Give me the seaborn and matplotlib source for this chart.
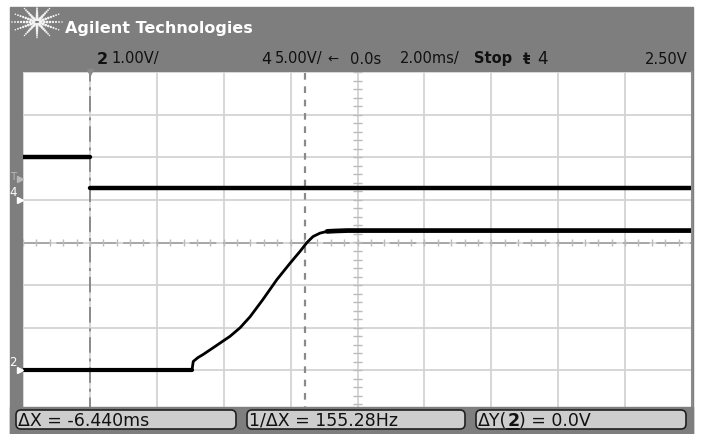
import numpy as np
import pandas as pd
import seaborn as sns
import matplotlib.pyplot as plt
from matplotlib.patches import Rectangle, FancyBboxPatch
from matplotlib import transforms

# scope settings
time_per_div = 2.0        # ms/div
ch2_volts_per_div = 1.0
ch4_volts_per_div = 5.0
ch2_offset_div = -3.0     # ground marker of channel 2
ch4_offset_div = 1.0      # ground marker of channel 4
trig_level = 2.50         # V, channel 4

# channel 2 trace (ms, V)
ch2_t = [-10.0, -4.95, -4.91, -4.77, -4.62, -4.26, -3.81, -3.51, -3.21, -2.83, -2.41,
         -2.02, -1.72, -1.51, -1.33, -1.12, -0.91, -0.67, -0.3, 10.0]
ch2_v = [0.0, 0.0, 0.21, 0.30, 0.37, 0.56, 0.80, 1.00, 1.26, 1.66, 2.13,
         2.51, 2.79, 3.00, 3.14, 3.22, 3.26, 3.27, 3.28, 3.28]

# channel 4 trace, two flat pieces (ms, V)
ch4_t = [-10.0, -8.0, -8.0, 10.0]
ch4_v = [5.0, 5.0, 1.35, 1.35]
ch4_seg = [0, 0, 1, 1]

# x cursors (ms)
cursor_t = [-1.56, -8.0]

# header / status texts
header = [("2", 97, True, 11.5), ("1.00V/", 111, False, 10.5),
          ("4", 261, False, 11.5), ("5.00V/", 275, False, 10.5),
          ("←", 327, False, 9.5), ("0.0s", 350, False, 10.5),
          ("2.00ms/", 400, False, 10.5), ("Stop", 474, True, 10.5),
          ("ŧ", 523, True, 11), ("4", 537, False, 12), ("2.50V", 645, False, 10.5)]
status = ["ΔX = -6.440ms", "1/ΔX = 155.28Hz", "ΔY(", "2", ") = 0.0V"]

df2 = pd.DataFrame({"t": ch2_t, "y": np.array(ch2_v) / ch2_volts_per_div + ch2_offset_div})
df4 = pd.DataFrame({"t": ch4_t, "y": np.array(ch4_v) / ch4_volts_per_div + ch4_offset_div,
                    "seg": ch4_seg})

sns.set_style("white")
plt.rcParams["font.family"] = ["DejaVu Sans"]

W, H = 701, 435
fig = plt.figure(figsize=(W / 100, H / 100), dpi=100, facecolor="white")

# background + header, pixel coordinates
bg = fig.add_axes([0, 0, 1, 1], zorder=0)
bg.set_xlim(0, W)
bg.set_ylim(H, 0)
bg.axis("off")
bg.add_patch(Rectangle((10, 8), 683, H - 8, color="#7e7e7e"))

# starburst logo
cx, cy = 37, 23
for ang in np.arange(0, 360, 30):
    a = np.deg2rad(ang)
    r = np.linspace(4, 25, 8)
    bg.scatter(cx + r * np.cos(a), cy + r * np.sin(a) * 0.62, s=np.linspace(5, 1.2, 8),
               color="#f4f4f4", lw=0)
bg.text(65, 28, "Agilent Technologies", color="white", fontsize=11.5, fontweight="bold",
        va="center", ha="left")
for txt, x, bold, fs in header:
    bg.text(x, 59, txt, color="#111111", fontsize=fs, fontweight="bold" if bold else "normal",
            va="center", ha="left")

# graticule
ax = fig.add_axes([23 / W, 1 - 414 / H, 669 / W, 341 / H], zorder=1)
ax.set_facecolor("white")
ax.set_xlim(-5 * time_per_div, 5 * time_per_div)
ax.set_ylim(-4, 4)
ax.set_xticks(np.arange(-10, 10.1, time_per_div))
ax.set_yticks(np.arange(-4, 4.1, 1))
ax.tick_params(length=0, labelbottom=False, labelleft=False)
ax.grid(True, color="#d3d3d3", lw=1.3)
for s in ["left", "top", "bottom"]:
    ax.spines[s].set_visible(False)
ax.spines["right"].set_color("#8c8c8c")
ax.spines["right"].set_linewidth(1.5)

# centre axes with minor ticks
ax.axhline(0, color="#a0a0a0", lw=1.2, ls=(0, (16, 4)))
ax.hlines(np.arange(-4, 4.01, 0.2), -0.12, 0.12, color="#bbbbbb", lw=1)
ax.vlines(np.arange(-10, 10.01, 0.4), -0.08, 0.08, color="#bbbbbb", lw=1)

# cursors
ax.axvline(cursor_t[0], color="#8a8a8a", lw=1.6, ls=(0, (3, 3)))
ax.axvline(cursor_t[1], color="#8a8a8a", lw=1.4, ls=(0, (8, 3, 1.5, 3)))
ax.plot(cursor_t[1], 4, marker="v", color="#8a8a8a", ms=5, clip_on=False)

# traces: thin ramp, heavier flat parts
sns.lineplot(data=df2, x="t", y="y", color="black", lw=2.0, sort=False, estimator=None, ax=ax)
sns.lineplot(data=df2.iloc[:2], x="t", y="y", color="black", lw=3.0, sort=False,
             estimator=None, ax=ax)
sns.lineplot(data=df2.iloc[-4:], x="t", y="y", color="black", lw=3.4, sort=False,
             estimator=None, ax=ax)
sns.lineplot(data=df4, x="t", y="y", units="seg", color="black", lw=3.2, sort=False,
             estimator=None, ax=ax)
ax.set_xlabel("")
ax.set_ylabel("")

# channel markers on the left strip
tr = transforms.blended_transform_factory(ax.transAxes, ax.transData)
for lab, lvl in [("4", ch4_offset_div), ("2", ch2_offset_div)]:
    ax.text(-0.02, lvl + 0.2, lab, transform=tr, color="white", fontsize=8.5,
            ha="left", va="center", clip_on=False)
    ax.plot(-0.005, lvl, marker=">", color="white", ms=5, transform=tr, clip_on=False)
trig_div = trig_level / ch4_volts_per_div + ch4_offset_div
ax.text(-0.02, trig_div + 0.05, "T", transform=tr, color="#b8b8b8", fontsize=7.5,
        ha="left", va="center", clip_on=False)
ax.plot(-0.005, trig_div, marker=">", color="#b8b8b8", ms=4, transform=tr, clip_on=False)

# status bar on top
top = fig.add_axes([0, 0, 1, 1], zorder=2)
top.set_xlim(0, W)
top.set_ylim(H, 0)
top.axis("off")
top.patch.set_alpha(0)
top.add_patch(Rectangle((10, 408), 683, H - 408, color="#7e7e7e"))
boxes = [(12, 240), (243, 469), (472, 690)]
for x0, x1 in boxes:
    top.add_patch(FancyBboxPatch((x0 + 4, 411), x1 - x0 - 8, 19,
                                 boxstyle="round,pad=0,rounding_size=5",
                                 fc="#cdcdcd", ec="#202020", lw=1.2))
top.text(boxes[0][0] + 6, 421, status[0], color="#111111", fontsize=12.5, va="center")
top.text(boxes[1][0] + 6, 421, status[1], color="#111111", fontsize=12.5, va="center")

# ΔY(2) with the channel number bold and underlined
fig.canvas.draw()
rend = fig.canvas.get_renderer()
inv = top.transData.inverted()
x = boxes[2][0] + 6
for i, txt in enumerate(status[2:]):
    t = top.text(x, 421, txt, color="#111111", fontsize=12.5, va="center",
                 fontweight="bold" if i == 1 else "normal")
    bb = t.get_window_extent(rend)
    (xa, _), (xb, _) = inv.transform([[bb.x0, bb.y0], [bb.x1, bb.y1]])
    if i == 1:
        top.plot([xa, xb], [430, 430], color="#111111", lw=1.4)
    x = xb

fig.savefig("out.png", dpi=100)
